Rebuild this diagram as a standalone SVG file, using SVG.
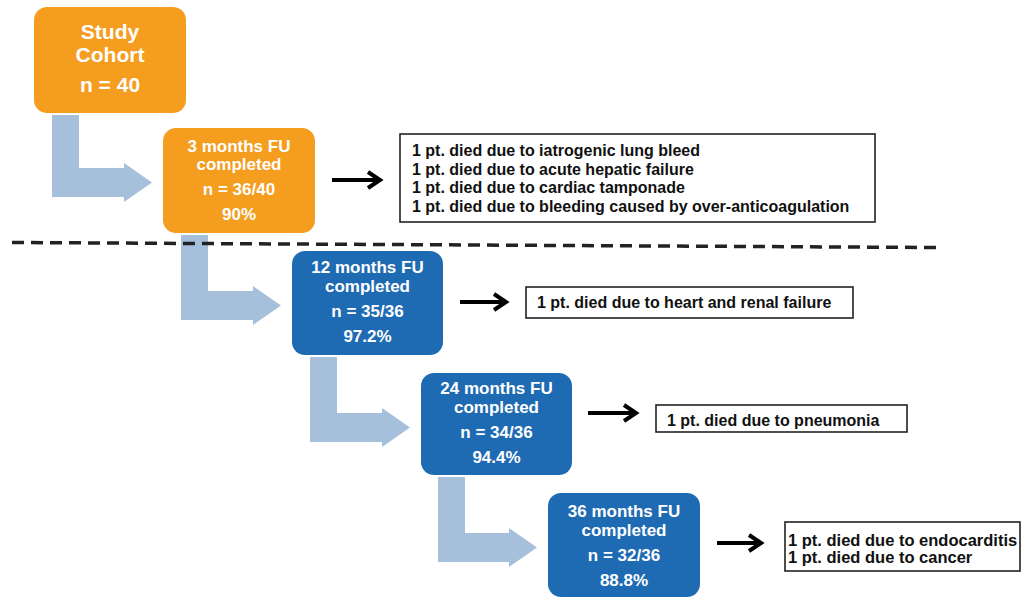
<svg xmlns="http://www.w3.org/2000/svg" width="1021" height="598" viewBox="0 0 1021 598">
<defs>
<style>
.orange{fill:#F49D1F}
.blue{fill:#1F6BB3}
.big{fill:#A6C0DB}
.wt{fill:#fff;font-family:"Liberation Sans",Arial,sans-serif;font-weight:bold;font-size:17px;text-anchor:middle}
.wt21{fill:#fff;font-family:"Liberation Sans",Arial,sans-serif;font-weight:bold;font-size:21px;text-anchor:middle}
.bt{fill:#111;font-family:"Liberation Sans",Arial,sans-serif;font-weight:bold;font-size:16px}
.bt2{fill:#111;font-family:"Liberation Sans",Arial,sans-serif;font-weight:bold;font-size:16.5px}
.note{fill:#fff;stroke:#222;stroke-width:1.6}
.blk{stroke:#000;stroke-width:4;fill:none}
.dash{stroke:#222;stroke-width:3.5;stroke-dasharray:12 7;fill:none}
</style>
<marker id="chev" markerUnits="userSpaceOnUse" markerWidth="20" markerHeight="24" refX="14" refY="10" orient="auto" overflow="visible">
<path d="M2,2 L14,10 L2,18" fill="none" stroke="#000" stroke-width="4"/>
</marker>
</defs>

<g id="connectors">
<polygon class="big" points="52,115 79,115 79,168 124,168 124,163 152,182.5 124,202 124,197 52,197"/>
<polygon class="big" points="181,235 208,235 208,291 253,291 253,286 281,305.5 253,325 253,320 181,320"/>
<polygon class="big" points="310,357 337,357 337,413 382,413 382,408 410,427.5 382,447 382,442 310,442"/>
<polygon class="big" points="438,477 465,477 465,533 509,533 509,528 537,547.5 509,567 509,562 438,562"/>
<line class="blk" x1="332" y1="180" x2="380" y2="180" marker-end="url(#chev)"/>
<line class="blk" x1="460" y1="302" x2="506" y2="302" marker-end="url(#chev)"/>
<line class="blk" x1="588" y1="413" x2="636" y2="413" marker-end="url(#chev)"/>
<line class="blk" x1="717" y1="543" x2="761" y2="543" marker-end="url(#chev)"/>
</g>

<line id="divider" class="dash" x1="12" y1="242.5" x2="936" y2="247.5"/>

<g id="study">
<rect class="orange" x="34" y="7" width="152" height="106" rx="13"/>
<text class="wt21" x="110" y="39">Study</text>
<text class="wt21" x="110" y="62">Cohort</text>
<text class="wt21" x="110" y="92">n = 40</text>
</g>

<g id="m3">
<rect class="orange" x="163" y="128" width="152" height="105" rx="13"/>
<text class="wt" x="239" y="152">3 months FU</text>
<text class="wt" x="239" y="170">completed</text>
<text class="wt" x="239" y="195">n = 36/40</text>
<text class="wt" x="239" y="220">90%</text>
</g>

<g id="m12">
<rect class="blue" x="292" y="251" width="151" height="104" rx="13"/>
<text class="wt" x="367.5" y="273">12 months FU</text>
<text class="wt" x="367.5" y="292">completed</text>
<text class="wt" x="367.5" y="317">n = 35/36</text>
<text class="wt" x="367.5" y="342">97.2%</text>
</g>

<g id="m24">
<rect class="blue" x="421" y="373" width="151" height="102" rx="13"/>
<text class="wt" x="496.5" y="394">24 months FU</text>
<text class="wt" x="496.5" y="413">completed</text>
<text class="wt" x="496.5" y="438">n = 34/36</text>
<text class="wt" x="496.5" y="463">94.4%</text>
</g>

<g id="m36">
<rect class="blue" x="548" y="493" width="152" height="104" rx="13"/>
<text class="wt" x="624" y="517">36 months FU</text>
<text class="wt" x="624" y="536">completed</text>
<text class="wt" x="624" y="561">n = 32/36</text>
<text class="wt" x="624" y="586">88.8%</text>
</g>

<g id="deaths3">
<rect class="note" x="400" y="134" width="475" height="88"/>
<text class="bt" x="412" y="156">1 pt. died due to iatrogenic lung bleed</text>
<text class="bt" x="412" y="174.5">1 pt. died due to acute hepatic failure</text>
<text class="bt" x="412" y="193">1 pt. died due to cardiac tamponade</text>
<text class="bt" x="412" y="212">1 pt. died due to bleeding caused by over-anticoagulation</text>
</g>

<g id="deaths12">
<rect class="note" x="526" y="287" width="327" height="31"/>
<text class="bt" x="537" y="308">1 pt. died due to heart and renal failure</text>
</g>

<g id="deaths24">
<rect class="note" x="656" y="405" width="251" height="27"/>
<text class="bt" x="667" y="426">1 pt. died due to pneumonia</text>
</g>

<g id="deaths36">
<rect class="note" x="785" y="522" width="235" height="49"/>
<text class="bt2" x="788" y="546">1 pt. died due to endocarditis</text>
<text class="bt2" x="788" y="563">1 pt. died due to cancer</text>
</g>
</svg>
